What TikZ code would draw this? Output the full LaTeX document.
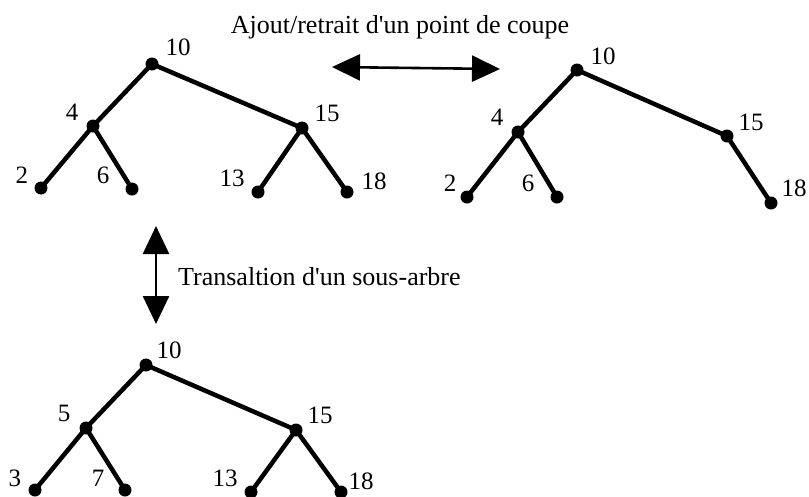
\documentclass[tikz,border=0pt]{standalone}
\usepackage{fontspec}
\setmainfont{Liberation Serif}
\usetikzlibrary{arrows.meta}
\begin{document}
\begin{tikzpicture}[x=1pt,y=-1pt,
  dot/.style={circle,fill=black,minimum size=13pt,inner sep=0pt},
  lbl/.style={font=\fontsize{25}{28}\selectfont,inner sep=0pt},
  txt/.style={font=\fontsize{26}{29}\selectfont,inner sep=0pt},
  edge/.style={line width=4.5pt},
  dblarrow/.style={line width=2.6pt,{Triangle[length=28pt,width=26pt]}-{Triangle[length=28pt,width=26pt]}}]
\useasboundingbox (0,0) rectangle (809,496);
% Tree 1
\node[dot] (a10) at (152,64) {};
\node[dot] (a4) at (93,126) {};
\node[dot] (a2) at (41,188) {};
\node[dot] (a6) at (132,189) {};
\node[dot] (a15) at (302,128) {};
\node[dot] (a13) at (258,192) {};
\node[dot] (a18) at (347,192) {};
\draw[edge] (a10.center) -- (a4.center) (a4.center) -- (a2.center) (a4.center) -- (a6.center)
  (a10.center) -- (a15.center) (a15.center) -- (a13.center) (a15.center) -- (a18.center);
\node[lbl] (la10) at (178,47) {10};
\node[lbl] (la4) at (72,112) {4};
\node[lbl] (la2) at (22,175) {2};
\node[lbl] (la6) at (103,175) {6};
\node[lbl] (la15) at (327,113) {15};
\node[lbl] (la13) at (232,178) {13};
\node[lbl] (la18) at (374,181) {18};
% Tree 2
\node[dot] (b10) at (577,70) {};
\node[dot] (b4) at (518,132) {};
\node[dot] (b2) at (467,197) {};
\node[dot] (b6) at (557,197) {};
\node[dot] (b15) at (727,136) {};
\node[dot] (b18) at (771,203) {};
\draw[edge] (b10.center) -- (b4.center) (b4.center) -- (b2.center) (b4.center) -- (b6.center)
  (b10.center) -- (b15.center) (b15.center) -- (b18.center);
\node[lbl] (lb10) at (603,56) {10};
\node[lbl] (lb4) at (497,117) {4};
\node[lbl] (lb2) at (450,183) {2};
\node[lbl] (lb6) at (528,183) {6};
\node[lbl] (lb15) at (751,122) {15};
\node[lbl] (lb18) at (794,188) {18};
% Tree 3
\node[dot] (c10) at (146,365) {};
\node[dot] (c5) at (86,428) {};
\node[dot] (c3) at (35,490) {};
\node[dot] (c7) at (125,490) {};
\node[dot] (c15) at (296,430) {};
\node[dot] (c13) at (251,492) {};
\node[dot] (c18) at (341,492) {};
\draw[edge] (c10.center) -- (c5.center) (c5.center) -- (c3.center) (c5.center) -- (c7.center)
  (c10.center) -- (c15.center) (c15.center) -- (c13.center) (c15.center) -- (c18.center);
\node[lbl] (lc10) at (169,350) {10};
\node[lbl] (lc5) at (64,413) {5};
\node[lbl] (lc3) at (15,478) {3};
\node[lbl] (lc7) at (98,478) {7};
\node[lbl] (lc15) at (320,415) {15};
\node[lbl] (lc13) at (225,478) {13};
\node[lbl] (lc18) at (361,481) {18};
% Arrows
\coordinate (hl) at (332,67);
\coordinate (hr) at (500,69);
\draw[dblarrow] (hl) -- (hr);
\node[txt] (htext) at (400,27) {Ajout/retrait d\textquotesingle un point de coupe};
\coordinate (vt) at (156,226);
\coordinate (vb) at (156,324);
\draw[dblarrow] (vt) -- (vb);
\node[txt,anchor=west] (vtext) at (178,277) {Transaltion d\textquotesingle un sous-arbre};
\end{tikzpicture}
\end{document}
